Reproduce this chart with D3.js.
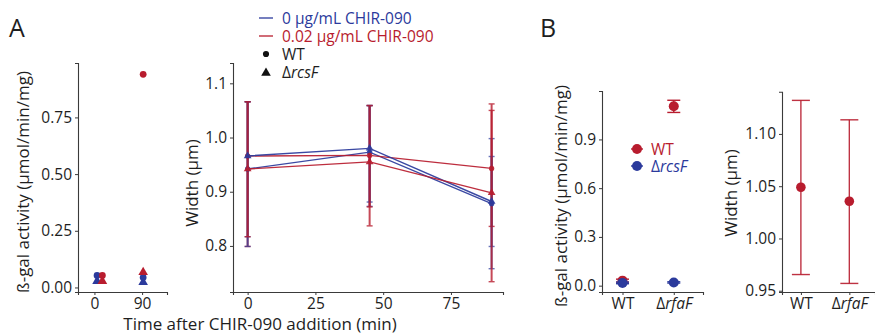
<!DOCTYPE html>
<html>
<head>
<meta charset="utf-8">
<script src="https://cdn.jsdelivr.net/npm/d3@7"></script>
<style>
  body { margin: 0; background: #fff; }
  text { font-family: "Open Sans", Lato, sans-serif; fill: #1e1e1e; }
</style>
</head>
<body>
<svg id="fig" width="875" height="336"></svg>
<script>
// ---- data ----
// panel A, beta-gal vs time (the two colours sit side by side at t=0)
const actTimeBlue = [5, 92];
const actTimeRed = [15, 92];
const actBlueWT = [0.053, 0.044];
const actBlueRcsF = [0.028, 0.023];
const actRedWT = [0.053, 0.94];
const actRedRcsF = [0.028, 0.067];
const actTicks = [0, 0.25, 0.5, 0.75];
const actTimeTicks = [0, 90];

// panel A, width vs time
const widthTimes = [0, 45, 90];
const widthTimeTicks = [0, 25, 50, 75];
const widthTicksA = [0.8, 0.9, 1.0, 1.1];
const wBlueWT = [0.942, 0.973, 0.878];
const wBlueWTlo = [0.817, 0.873, 0.758];
const wBlueWThi = [1.066, 1.059, 0.998];
const wBlueRcsF = [0.966, 0.980, 0.882];
const wBlueRcsFlo = [0.799, 0.881, 0.799];
const wBlueRcsFhi = [1.066, 1.059, 0.965];
const wRedWT = [0.966, 0.967, 0.943];
const wRedWTlo = [0.799, 0.872, 0.836];
const wRedWThi = [1.066, 1.059, 1.050];
const wRedRcsF = [0.942, 0.955, 0.898];
const wRedRcsFlo = [0.817, 0.837, 0.734];
const wRedRcsFhi = [1.066, 1.059, 1.062];

// panel B
const strains = ["WT", "rfaF"];
const bgalWT = [0.031, 1.104];
const bgalWTlo = [0.022, 1.066];
const bgalWThi = [0.040, 1.141];
const bgalRcsF = [0.017, 0.020];
const bgalRcsFlo = [0.012, 0.016];
const bgalRcsFhi = [0.022, 0.024];
const bgalTicks = [0, 0.3, 0.6, 0.9];
const widthB = [1.049, 1.0356];
const widthBlo = [0.9655, 0.957];
const widthBhi = [1.1321, 1.1135];
const widthTicksB = [0.95, 1.00, 1.05, 1.10];

const blue = "#2b3a9c";
const red = "#b81c2e";
const axisCol = "#3a3a3a";

const svg = d3.select("#fig");

function drawAxes(x, y, xTicks, yTicks, yFmt, xFmt) {
  const g = svg.append("g");
  const ax = g.append("g")
    .attr("transform", "translate(0," + y.range()[0] + ")")
    .call(d3.axisBottom(x).tickValues(xTicks).tickSize(3).tickPadding(3).tickFormat(xFmt || d3.format("d")));
  const ay = g.append("g")
    .attr("transform", "translate(" + x.range()[0] + ",0)")
    .call(d3.axisLeft(y).tickValues(yTicks).tickSize(3).tickPadding(3).tickFormat(yFmt));
  [ax, ay].forEach(a => {
    a.select(".domain").attr("stroke", axisCol).attr("stroke-width", 1.1);
    a.selectAll(".tick line").attr("stroke", axisCol);
    a.selectAll(".tick text").style("font-size", "15.5px").attr("fill", "#262626")
      .style("font-family", "'Open Sans', sans-serif");
  });
  return { ax, ay };
}

function yLabel(xPos, yMid, txt) {
  svg.append("text")
    .attr("transform", "translate(" + xPos + "," + yMid + ") rotate(-90)")
    .attr("text-anchor", "middle")
    .style("font-size", "17px")
    .text(txt);
}

function strainTicks(axisSel) {
  axisSel.selectAll(".tick text").each(function (d) {
    const t = d3.select(this);
    if (strains[d - 1] === "WT") { t.text("WT"); }
    else {
      t.append("tspan").text("Δ");
      t.append("tspan").style("font-style", "italic").text(strains[d - 1]);
    }
  });
}

const tri = d3.symbol().type(d3.symbolTriangle);
const circ = d3.symbol().type(d3.symbolCircle);

// ---------- panel A left: beta-gal ----------
const xA1 = d3.scaleLinear().domain([-31, 137]).range([78, 167]);
const yA1 = d3.scaleLinear().domain([-0.02, 0.99]).range([292, 63]);
drawAxes(xA1, yA1, actTimeTicks, actTicks, d3.format(".2f"));

const actSets = [
  { t: actTimeBlue, v: actBlueRcsF, c: blue, s: tri },
  { t: actTimeBlue, v: actBlueWT, c: blue, s: circ },
  { t: actTimeRed, v: actRedRcsF, c: red, s: tri },
  { t: actTimeRed, v: actRedWT, c: red, s: circ }
];
actSets.forEach(set => {
  svg.append("g").selectAll("path")
    .data(set.v)
    .enter()
    .append("path")
    .attr("d", set.s === tri ? tri.size(40)() : circ.size(36)())
    .attr("transform", (d, i) => "translate(" + xA1(set.t[i]) + "," + yA1(d) + ")")
    .attr("fill", set.c);
});

yLabel(29, 182, "ß-gal activity (µmol/min/mg)");
svg.append("text").attr("x", 260).attr("y", 330).attr("text-anchor", "middle")
  .style("font-size", "17px").text("Time after CHIR-090 addition (min)");

// ---------- panel A right: width ----------
const xA2 = d3.scaleLinear().domain([-5.4, 94.2]).range([233, 503]);
const yA2 = d3.scaleLinear().domain([0.715, 1.1375]).range([292, 63]);
drawAxes(xA2, yA2, widthTimeTicks, widthTicksA, d3.format(".1f"));

const wSets = [
  { v: wBlueWT, lo: wBlueWTlo, hi: wBlueWThi, c: blue, s: circ, a: 0.7 },
  { v: wRedWT, lo: wRedWTlo, hi: wRedWThi, c: red, s: circ, a: 0.8 },
  { v: wBlueRcsF, lo: wBlueRcsFlo, hi: wBlueRcsFhi, c: blue, s: tri, a: 0.7 },
  { v: wRedRcsF, lo: wRedRcsFlo, hi: wRedRcsFhi, c: red, s: tri, a: 0.8 }
];
const line = d3.line().x((d, i) => xA2(widthTimes[i])).y(d => yA2(d));
// error bars first, then lines and points on top
wSets.forEach(set => {
  const eb = svg.append("g").attr("opacity", set.a)
    .selectAll("g").data(set.v).enter().append("g");
  eb.append("line")
    .attr("x1", (d, i) => xA2(widthTimes[i])).attr("x2", (d, i) => xA2(widthTimes[i]))
    .attr("y1", (d, i) => yA2(set.lo[i])).attr("y2", (d, i) => yA2(set.hi[i]))
    .attr("stroke", set.c).attr("stroke-width", 2);
  [set.lo, set.hi].forEach(arr => {
    eb.append("line")
      .attr("x1", (d, i) => xA2(widthTimes[i]) - 3).attr("x2", (d, i) => xA2(widthTimes[i]) + 3)
      .attr("y1", (d, i) => yA2(arr[i])).attr("y2", (d, i) => yA2(arr[i]))
      .attr("stroke", set.c).attr("stroke-width", 1.4);
  });
});
wSets.forEach(set => {
  const g = svg.append("g").attr("opacity", 0.92);
  g.append("path").datum(set.v).attr("d", line)
    .attr("fill", "none").attr("stroke", set.c).attr("stroke-width", 1.4);
  g.selectAll(".pt").data(set.v).enter().append("path")
    .attr("d", set.s === tri ? tri.size(26)() : circ.size(22)())
    .attr("transform", (d, i) => "translate(" + xA2(widthTimes[i]) + "," + yA2(d) + ")")
    .attr("fill", set.c);
});
yLabel(198, 183, "Width (µm)");

// legend A
const legA = svg.append("g").style("font-size", "15.5px");
const legLines = [["0 µg/mL CHIR-090", blue], ["0.02 µg/mL CHIR-090", red]];
legLines.forEach((l, i) => {
  const yy = 18 + i * 18;
  legA.append("line").attr("x1", 259).attr("x2", 273).attr("y1", yy).attr("y2", yy)
    .attr("stroke", l[1]).attr("stroke-width", 1.3);
  legA.append("text").attr("x", 282).attr("y", yy + 5.5).style("fill", l[1]).text(l[0]);
});
legA.append("path").attr("d", circ.size(30)()).attr("transform", "translate(266,54)").attr("fill", "#111");
legA.append("text").attr("x", 282).attr("y", 59.5).text("WT");
legA.append("path").attr("d", tri.size(40)()).attr("transform", "translate(266,73)").attr("fill", "#111");
const lt = legA.append("text").attr("x", 282).attr("y", 78);
lt.append("tspan").text("Δ");
lt.append("tspan").style("font-style", "italic").text("rcsF");

// ---------- panel B left: beta-gal ----------
const xB1 = d3.scaleLinear().domain([0.6, 2.57]).range([602, 703]);
const yB1 = d3.scaleLinear().domain([-0.039, 1.198]).range([292, 91]);
const axB1 = drawAxes(xB1, yB1, [1, 2], bgalTicks, d3.format(".1f"), () => "");
strainTicks(axB1.ax);

const bSets = [
  { v: bgalWT, lo: bgalWTlo, hi: bgalWThi, c: red },
  { v: bgalRcsF, lo: bgalRcsFlo, hi: bgalRcsFhi, c: blue }
];
bSets.forEach(set => {
  const eb = svg.append("g").selectAll("g").data(set.v).enter().append("g");
  eb.append("line")
    .attr("x1", (d, i) => xB1(i + 1)).attr("x2", (d, i) => xB1(i + 1))
    .attr("y1", (d, i) => yB1(set.lo[i])).attr("y2", (d, i) => yB1(set.hi[i]))
    .attr("stroke", set.c).attr("stroke-width", 1.4);
  [set.lo, set.hi].forEach(arr => {
    eb.append("line")
      .attr("x1", (d, i) => xB1(i + 1) - 6.5).attr("x2", (d, i) => xB1(i + 1) + 6.5)
      .attr("y1", (d, i) => yB1(arr[i])).attr("y2", (d, i) => yB1(arr[i]))
      .attr("stroke", set.c).attr("stroke-width", 1.4);
  });
  eb.append("circle")
    .attr("cx", (d, i) => xB1(i + 1)).attr("cy", d => yB1(d))
    .attr("r", 5).attr("fill", set.c);
});
yLabel(567, 196, "ß-gal activity (µmol/min/mg)");

// legend B
const legB = svg.append("g").style("font-size", "15.5px");
[["WT", red], ["rcsF", blue]].forEach((l, i) => {
  const yy = 149 + i * 17;
  legB.append("line").attr("x1", 631).attr("x2", 643).attr("y1", yy).attr("y2", yy)
    .attr("stroke", l[1]).attr("stroke-width", 1.4);
  legB.append("circle").attr("cx", 637).attr("cy", yy).attr("r", 5).attr("fill", l[1]);
  const t = legB.append("text").attr("x", 651).attr("y", yy + 5.5).style("fill", l[1]);
  if (i === 0) t.text(l[0]);
  else {
    t.append("tspan").text("Δ");
    t.append("tspan").style("font-style", "italic").text(l[0]);
  }
});

// ---------- panel B right: width ----------
const xB2 = d3.scaleLinear().domain([0.61, 2.53]).range([782, 875]);
const yB2 = d3.scaleLinear().domain([0.9488, 1.1404]).range([292, 91.7]);
const axB2 = drawAxes(xB2, yB2, [1, 2], widthTicksB, d3.format(".2f"), () => "");
strainTicks(axB2.ax);

const ebB2 = svg.append("g").selectAll("g").data(widthB).enter().append("g");
ebB2.append("line")
  .attr("x1", (d, i) => xB2(i + 1)).attr("x2", (d, i) => xB2(i + 1))
  .attr("y1", (d, i) => yB2(widthBlo[i])).attr("y2", (d, i) => yB2(widthBhi[i]))
  .attr("stroke", red).attr("stroke-width", 1.4).attr("opacity", 0.9);
[widthBlo, widthBhi].forEach(arr => {
  ebB2.append("line")
    .attr("x1", (d, i) => xB2(i + 1) - 9).attr("x2", (d, i) => xB2(i + 1) + 9)
    .attr("y1", (d, i) => yB2(arr[i])).attr("y2", (d, i) => yB2(arr[i]))
    .attr("stroke", red).attr("stroke-width", 1.4).attr("opacity", 0.9);
});
ebB2.append("circle")
  .attr("cx", (d, i) => xB2(i + 1)).attr("cy", d => yB2(d))
  .attr("r", 4.8).attr("fill", red);
yLabel(737, 193, "Width (µm)");

// panel letters
svg.append("text").attr("x", 9).attr("y", 37).style("font-size", "25px").text("A");
svg.append("text").attr("x", 540).attr("y", 37).style("font-size", "25px").text("B");
</script>
</body>
</html>
